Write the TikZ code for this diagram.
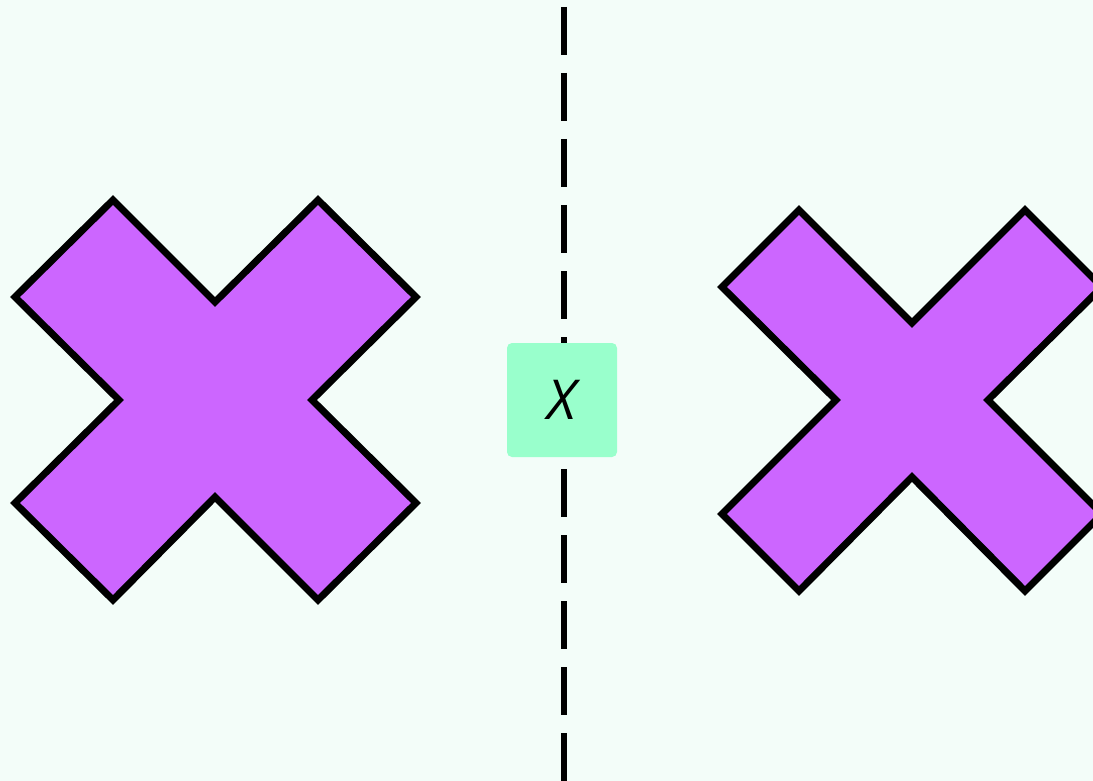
\documentclass[tikz,border=0pt]{standalone}
\usepackage{fontspec}
\newfontfamily\labelfont{Open Sans}
\definecolor{bg}{HTML}{F3FDF9}
\definecolor{crossfill}{HTML}{CC66FF}
\definecolor{boxfill}{HTML}{99FFCC}
\begin{document}
\begin{tikzpicture}[x=1pt,y=-1pt,
  crossshape/.style={draw=black,fill=crossfill,line width=7pt,line join=miter},
  divider/.style={draw=black,line width=6pt,dash pattern=on 48pt off 18pt},
  labelbox/.style={fill=boxfill,rounded corners=5pt,minimum width=110pt,minimum height=114pt,inner sep=0pt,font=\labelfont\itshape\fontsize{55}{66}\selectfont}]
\fill[bg] (0,0) rectangle (1093,781);
\useasboundingbox (0,0) rectangle (1093,781);
\coordinate (top) at (564,7);
\coordinate (bottom) at (564,781);
\draw[divider] (top) -- (bottom);
\begin{scope}
\clip (0,0) rectangle (1093,781);
\draw[crossshape] (113,200) -- (215,302) -- (318,200) -- (416,297) -- (312,400) -- (416,503) -- (318,600) -- (215,497) -- (113,600) -- (15,503) -- (119,400) -- (15,297) -- cycle;
\draw[crossshape] (799,210) -- (912,323) -- (1025,210) -- (1102,287) -- (988,400) -- (1102,514) -- (1025,591) -- (912,477) -- (799,591) -- (722,514) -- (836,400) -- (722,287) -- cycle;
\end{scope}
\node[labelbox] (label) at (562,400) {X};
\end{tikzpicture}
\end{document}
